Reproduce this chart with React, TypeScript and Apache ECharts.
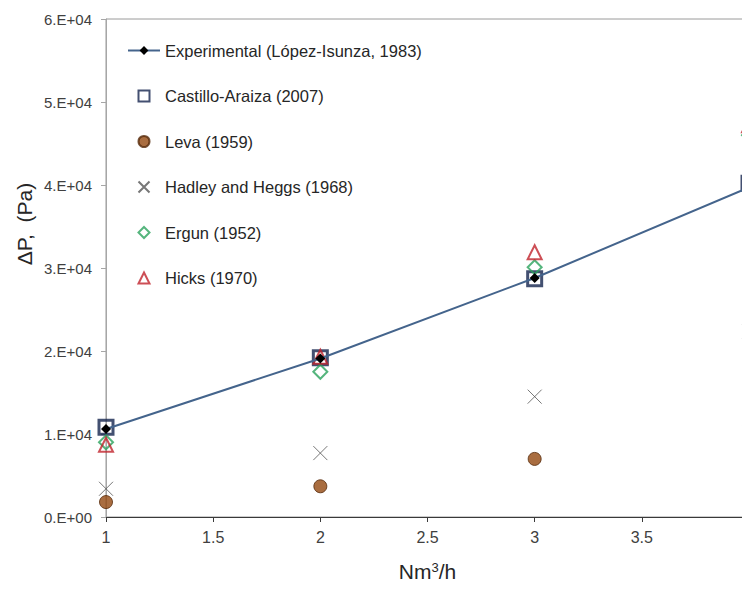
import React, { useEffect, useRef } from "react";
import * as echarts from "echarts";

const xValues = [1, 2, 3, 4];
const experimental = [10600, 19100, 28800, 39700];
const castillo = [10800, 19200, 28700, 40200];
const leva = [1800, 3700, 7000, 11000];
const hadley = [3400, 7700, 14500, 22300];
const ergun = [9000, 17500, 30100, 46000];
const hicks = [8700, 19300, 31900, 47200];

const seriesNames = [
  "Experimental (López-Isunza, 1983)",
  "Castillo-Araiza (2007)",
  "Leva (1959)",
  "Hadley and Heggs (1968)",
  "Ergun (1952)",
  "Hicks (1970)",
];

const pairs = (ys: number[]) => xValues.map((x, i) => [x, ys[i]]);

const FONT = "Liberation Sans, Arial, sans-serif";
const SQUARE = "path://M0,0L10,0L10,10L0,10Z";
const DIAMOND = "path://M5,0L10,5L5,10L0,5Z";
const TRIANGLE = "path://M5,0L10,10L0,10Z";
const CROSS = "path://M0,0L10,10M10,0L0,10";

export default function App() {
  const ref = useRef<HTMLDivElement>(null);
  useEffect(() => {
    if (!ref.current) return;
    const chart = echarts.init(ref.current, null, { renderer: "svg" });
    chart.setOption({
      animation: false,
      backgroundColor: "#ffffff",
      textStyle: { fontFamily: FONT },
      grid: {
        left: 106,
        right: 11,
        top: 19,
        bottom: 72,
        show: true,
        borderColor: "#9a9a9a",
        borderWidth: 1,
        backgroundColor: "transparent",
      },
      legend: {
        orient: "vertical",
        left: 122,
        top: 37,
        itemWidth: 32,
        itemHeight: 11,
        itemGap: 28.5,
        symbolKeepAspect: true,
        data: seriesNames,
        textStyle: { fontSize: 16.5, color: "#262626", fontFamily: FONT },
      },
      xAxis: {
        type: "value",
        min: 1,
        max: 4,
        interval: 0.5,
        splitLine: { show: false },
        axisLine: { lineStyle: { color: "#3a3a3a", width: 1 } },
        axisTick: { show: true, inside: false, length: 5, lineStyle: { color: "#3a3a3a" } },
        axisLabel: {
          fontSize: 16,
          color: "#404040",
          margin: 12,
          fontFamily: FONT,
          showMaxLabel: false,
          formatter: (v: number) => (v >= 4 ? "" : String(v)),
        },
        name: "Nm{s|3}/h",
        nameLocation: "middle",
        nameGap: 44,
        nameTextStyle: {
          fontSize: 21,
          color: "#262626",
          fontFamily: FONT,
          rich: { s: { fontSize: 13, verticalAlign: "top", padding: [0, 0, 8, 0], color: "#262626", fontFamily: FONT } },
        },
      },
      yAxis: {
        type: "value",
        min: 0,
        max: 60000,
        interval: 10000,
        splitLine: { show: false },
        axisLine: { show: true, lineStyle: { color: "#a6a6a6", width: 1 } },
        axisTick: { show: true, inside: false, length: 5, lineStyle: { color: "#a6a6a6" } },
        axisLabel: {
          fontSize: 15,
          color: "#404040",
          margin: 14,
          fontFamily: FONT,
          formatter: (v: number) => (v === 0 ? "0.E+00" : `${Math.round(v / 10000)}.E+04`),
        },
      },
      graphic: [
        {
          type: "text",
          x: 24,
          y: 224,
          rotation: Math.PI / 2,
          style: {
            text: "ΔP,  (Pa)",
            fontSize: 21,
            fill: "#262626",
            fontFamily: FONT,
            align: "center",
            verticalAlign: "middle",
          },
        },
      ],
      series: [
        {
          name: seriesNames[1],
          type: "scatter",
          data: pairs(castillo),
          symbol: SQUARE,
          symbolSize: 14,
          symbolKeepAspect: true,
          itemStyle: { color: "rgba(255,255,255,0)", borderColor: "#14244d", borderWidth: 3 },
          z: 3,
        },
        {
          name: seriesNames[2],
          type: "scatter",
          data: pairs(leva),
          symbol: "circle",
          symbolSize: 13,
          itemStyle: { color: "#944810", borderColor: "#55290a", borderWidth: 1 },
          z: 3,
        },
        {
          name: seriesNames[3],
          type: "scatter",
          data: pairs(hadley),
          symbol: CROSS,
          symbolSize: 14,
          symbolKeepAspect: true,
          itemStyle: { color: "none", borderColor: "#555555", borderWidth: 1 },
          z: 3,
        },
        {
          name: seriesNames[4],
          type: "scatter",
          data: pairs(ergun),
          symbol: DIAMOND,
          symbolSize: 14,
          symbolKeepAspect: true,
          itemStyle: { color: "rgba(255,255,255,0)", borderColor: "#2aa35c", borderWidth: 2 },
          z: 3,
        },
        {
          name: seriesNames[5],
          type: "scatter",
          data: pairs(hicks),
          symbol: TRIANGLE,
          symbolSize: 14,
          symbolKeepAspect: true,
          itemStyle: { color: "rgba(255,255,255,0)", borderColor: "#c0232c", borderWidth: 2 },
          z: 3,
        },
        {
          name: seriesNames[0],
          type: "line",
          data: pairs(experimental),
          symbol: "diamond",
          symbolSize: 10,
          showSymbol: true,
          lineStyle: { color: "#44648c", width: 2 },
          itemStyle: { color: "#000000", borderColor: "#000000", borderWidth: 0 },
          z: 4,
        },
      ],
    });
    return () => chart.dispose();
  }, []);
  return (
    <div style={{ position: "absolute", left: 0, top: 0, width: 742, height: 589, overflow: "hidden" }}>
      <div ref={ref} style={{ width: 760, height: 589 }} />
    </div>
  );
}
